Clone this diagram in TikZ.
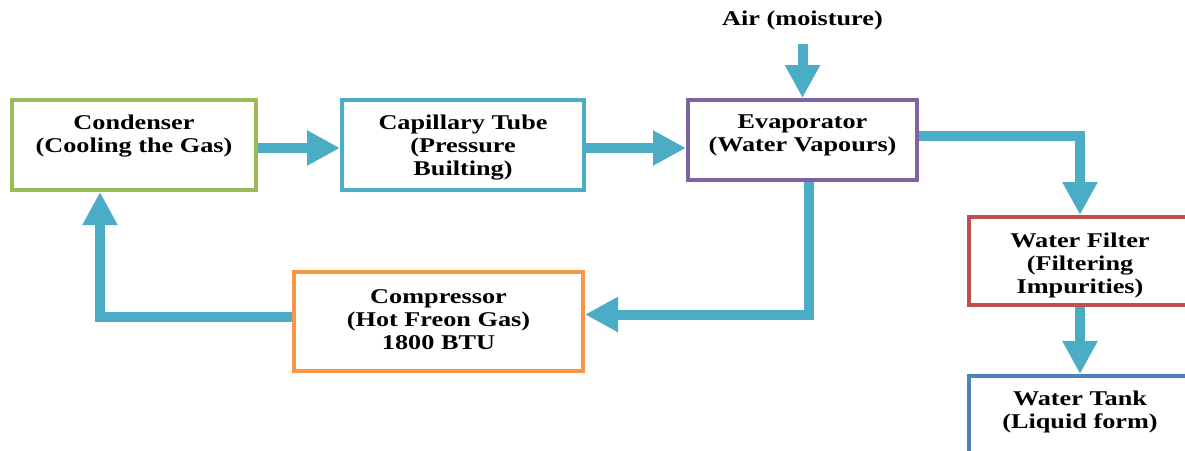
\documentclass[tikz,border=0pt]{standalone}
\usepackage{fontspec}
\setmainfont{Liberation Serif}[FakeStretch=1.25, BoldFont={Liberation Serif Bold}, BoldFeatures={FakeStretch=1.25}]
\usetikzlibrary{arrows.meta}
\definecolor{flow}{RGB}{75,172,198}
\definecolor{cgreen}{RGB}{155,187,89}
\definecolor{cblue}{RGB}{75,172,198}
\definecolor{cpurple}{RGB}{128,100,162}
\definecolor{corange}{RGB}{247,150,70}
\definecolor{cred}{RGB}{192,80,77}
\definecolor{ctank}{RGB}{79,129,189}
\tikzset{
  box/.style={draw=#1, line width=4pt, fill=white, inner sep=0pt},
  boxtext/.style={font=\fontsize{21}{23}\selectfont\bfseries, align=center, inner sep=0pt, anchor=north},
  flowarrow/.style={draw=flow, line width=10pt, line join=miter,
    -{Triangle[width=33pt,length=33pt]}, color=flow},
}
\begin{document}
\begin{tikzpicture}[x=1pt,y=-1pt]
\useasboundingbox (0,0) rectangle (1185,450);
\clip (0,0) rectangle (1185,450);
\fill[white] (0,0) rectangle (1185,450);

\node[box=cgreen, minimum width=244pt, minimum height=90pt,
  label={[boxtext, yshift=-17pt]north:Condenser\\(Cooling the Gas)}] (cond) at (134,145) {};
\node[box=cblue, minimum width=242pt, minimum height=90pt,
  label={[boxtext, yshift=-17pt]north:Capillary Tube\\(Pressure\\Builting)}] (cap) at (463,145) {};
\node[box=cpurple, minimum width=229pt, minimum height=80pt,
  label={[boxtext, yshift=-17pt]north:Evaporator\\(Water Vapours)}] (evap) at (802.5,140) {};
\node[box=corange, minimum width=289pt, minimum height=99pt,
  label={[boxtext, yshift=-19pt]north:Compressor\\(Hot Freon Gas)\\1800 BTU}] (comp) at (438.5,321.5) {};
\node[box=cred, minimum width=222pt, minimum height=88pt,
  label={[boxtext, yshift=-18pt]north:Water Filter\\(Filtering\\Impurities)}] (filter) at (1080,261) {};
\node[box=ctank, minimum width=222pt, minimum height=110pt,
  label={[boxtext, yshift=-17pt]north:Water Tank\\(Liquid form)}] (tank) at (1080,431) {};

\node[font=\fontsize{21}{23}\selectfont\bfseries, inner sep=0pt] (air) at (802.5,20) {Air (moisture)};

\draw[flowarrow, shorten <=14pt] (air.south) -- (evap.north);
\draw[flowarrow] ([yshift=-3pt]cond.east) -- ([yshift=-3pt]cap.west);
\draw[flowarrow] ([yshift=-3pt]cap.east) -- ([yshift=-3pt]cap.east -| evap.west);
\draw[flowarrow] ([yshift=4pt]evap.east) -| (filter.north);
\draw[flowarrow] ([xshift=6pt]evap.south) |- ([yshift=7pt]comp.east);
\draw[flowarrow] ([yshift=5pt]comp.west) -| ([xshift=-34pt]cond.south);
\draw[flowarrow] (filter.south) -- (tank.north);
\end{tikzpicture}
\end{document}
